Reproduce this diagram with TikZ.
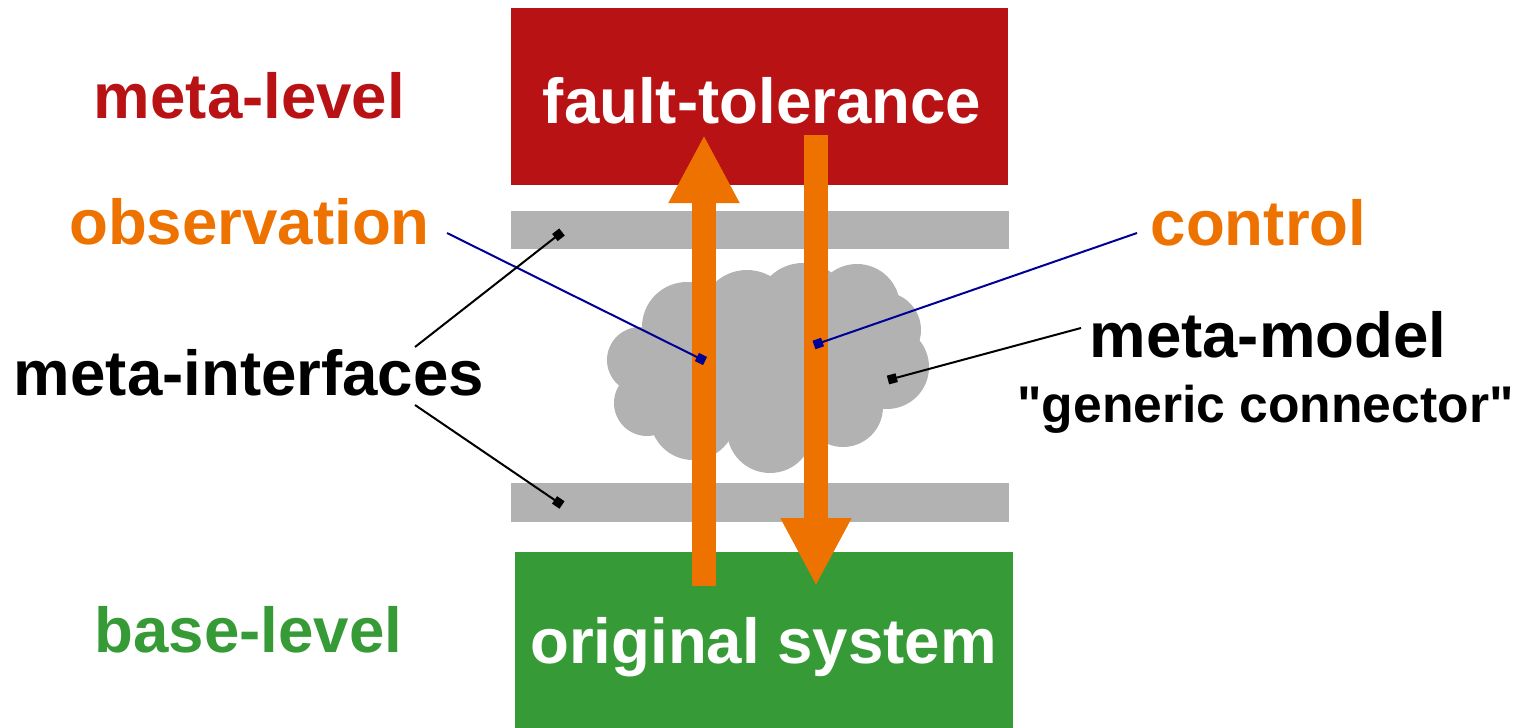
\documentclass[tikz,border=0pt]{standalone}
\usepackage{fontspec}
\setmainfont{Liberation Sans}
\newfontfamily\quotefont{Liberation Sans}[Ligatures=ResetAll]
\usetikzlibrary{arrows.meta}

\definecolor{metared}{RGB}{184,18,20}
\definecolor{basegreen}{RGB}{54,154,54}
\definecolor{flow}{RGB}{238,114,0}
\definecolor{ifgray}{RGB}{178,178,178}
\definecolor{leaderblue}{RGB}{0,0,150}

\tikzset{
  big/.style={font=\fontsize{31.8}{36}\selectfont\bfseries, inner sep=0pt, anchor=base},
  small/.style={font=\quotefont\fontsize{25.8}{30}\selectfont\bfseries, inner sep=0pt, anchor=base},
  ifbar/.style={fill=ifgray},
  bigarrow/.style={draw=flow, line width=12pt, -{Triangle[length=34pt,width=33pt]}, flow},
  leader/.style={line width=1pt, -{Square[length=4.5pt,width=4.5pt]}},
}

\begin{document}
\begin{tikzpicture}[x=0.5pt, y=-0.5pt]
  \useasboundingbox (0,0) rectangle (1533,728);

  % level boxes
  \fill[metared] (511,8) rectangle (1008,185);
  \fill[basegreen] (515,552) rectangle (1013,728);

  % meta-interfaces (two grey bars)
  \fill[ifbar] (511,211) rectangle (1009,249);
  \fill[ifbar] (511,483) rectangle (1009,522);

  % the meta-model cloud, built from overlapping discs
  \foreach \cx/\cy/\r in {640/360/33, 647/403/33, 687/327/45, 747/317/47,
      803/310/47, 857/307/43, 883/330/38, 887/367/42, 843/407/40,
      770/430/43, 693/417/43}
    \fill[ifgray] (\cx,\cy) circle (\r);
  \fill[ifgray] (650,320) rectangle (880,420);

  % level texts
  \node[big, text=white] (ft) at (762,123) {fault-tolerance};
  \node[big, text=white] (os) at (763.5,663) {original system};
  \node[big, text=metared] (ml) at (249.5,118) {meta-level};
  \node[big, text=basegreen] (bl) at (248.5,652) {base-level};

  % side labels
  \node[big, text=flow] (obs) at (249.5,244) {observation};
  \node[big, text=flow] (ctl) at (1258.5,245) {control};
  \node[big] (mi) at (249,395) {meta-interfaces};
  \node[big] (mm) at (1268,357) {meta-model};
  \node[small] (gc) at (1265.5,422) {"generic connector"};

  % observation / control flows
  \coordinate (up-from) at (704,586);
  \coordinate (up-to) at (704,135);
  \coordinate (down-from) at (816,135);
  \coordinate (down-to) at (816,586);
  \draw[bigarrow] (up-from) -- (up-to);
  \draw[bigarrow] (down-from) -- (down-to);

  % leader lines
  \coordinate (obs-l) at (447,233);
  \coordinate (obs-p) at (705,361);
  \coordinate (ctl-l) at (1137,233);
  \coordinate (ctl-p) at (814,345);
  \coordinate (mi-a) at (415,347);
  \coordinate (mi-ap) at (562,232);
  \coordinate (mi-b) at (415,405);
  \coordinate (mi-bp) at (562,505);
  \coordinate (mm-l) at (1081,328);
  \coordinate (mm-p) at (888,380);

  \draw[leader, leaderblue] (obs-l) -- (obs-p);
  \draw[leader, leaderblue] (ctl-l) -- (ctl-p);
  \draw[leader] (mi-a) -- (mi-ap);
  \draw[leader] (mi-b) -- (mi-bp);
  \draw[leader] (mm-l) -- (mm-p);
\end{tikzpicture}
\end{document}
